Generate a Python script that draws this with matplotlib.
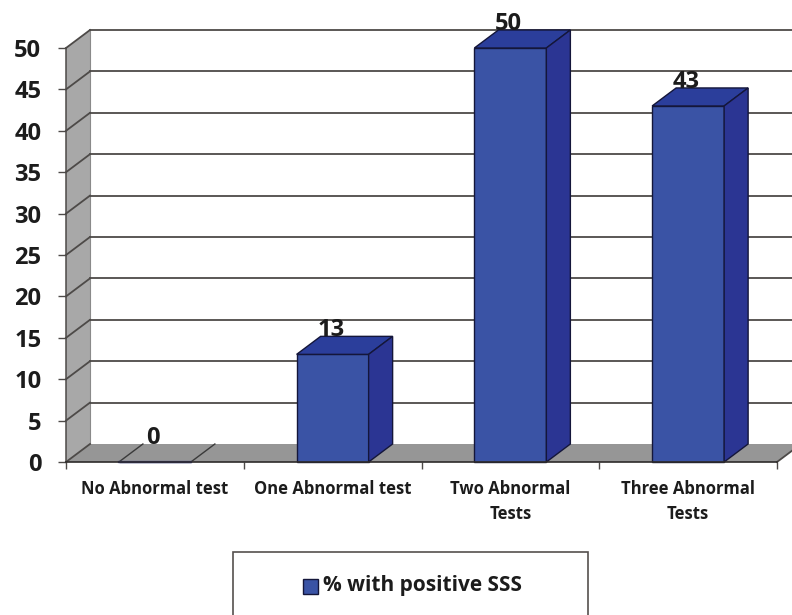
"""Pseudo-3D bar chart: % with positive SSS by number of abnormal tests."""

import matplotlib

matplotlib.use("Agg")
import matplotlib.pyplot as plt
from matplotlib.patches import Polygon, Rectangle


categories = ["No Abnormal test", "One Abnormal test", "Two Abnormal\nTests", "Three Abnormal\nTests"]
values = [0, 13, 50, 43]
y_ticks = [0, 5, 10, 15, 20, 25, 30, 35, 40, 45, 50]
legend_label = "% with positive SSS"

FRONT = "#3A53A5"
TOP = "#2B3E9B"
SIDE = "#2B3593"
WALL = "#A8A8A8"
FLOOR = "#969696"
EDGE = "#14163A"
LINE = "#4D4A48"
INK = "#1C1C1C"

W, H = 792, 615
# depth of the fake 3D box, in data units (24 px across, 18 px up)
DX = 24 / 177.75
DY = 18 / 8.28
BAR_W = 0.405


def draw_box(ax):
    ax.add_patch(Polygon([(0, 0), (DX, DY), (DX, 50 + DY), (0, 50)], facecolor=WALL, edgecolor="none", zorder=1, clip_on=False))
    ax.add_patch(Polygon([(0, 0), (4, 0), (4 + DX, DY), (DX, DY)], facecolor=FLOOR, edgecolor="none", zorder=1, clip_on=False))
    ax.plot([DX, DX], [DY, 50 + DY], color="#8A8A8A", lw=0.8, zorder=2, clip_on=False)
    for v in y_ticks:
        ax.plot([0, DX], [v, v + DY], color=LINE, lw=1.3, zorder=2, clip_on=False)
        if v > 0:
            ax.plot([DX, 4 + DX], [v + DY, v + DY], color=LINE, lw=1.3, zorder=2, clip_on=False)
    ax.plot([4, 4 + DX], [0, DY], color=LINE, lw=1.3, zorder=2, clip_on=False)


def draw_bars(ax):
    for i, value in enumerate(values):
        x0 = i + 0.5 - BAR_W / 2
        x1 = x0 + BAR_W
        ax.bar(i + 0.5, value, width=BAR_W, color=FRONT, edgecolor=EDGE, linewidth=1.0, zorder=3, clip_on=False)
        top_color = TOP if value > 0 else "none"
        ax.add_patch(Polygon([(x0, value), (x1, value), (x1 + DX, value + DY), (x0 + DX, value + DY)],
                             facecolor=top_color, edgecolor=EDGE if value > 0 else "none", lw=1.0, zorder=3, clip_on=False))
        if value > 0:
            ax.add_patch(Polygon([(x1, 0), (x1 + DX, DY), (x1 + DX, value + DY), (x1, value)],
                                 facecolor=SIDE, edgecolor=EDGE, lw=1.0, zorder=3, clip_on=False))
        else:
            ax.plot([x0, x0 + DX], [0, DY], color="#3A3A3A", lw=1.0, zorder=3, clip_on=False)
            ax.plot([x1, x1 + DX], [0, DY], color="#3A3A3A", lw=1.0, zorder=3, clip_on=False)
            ax.plot([x0, x1], [0, 0], color=SIDE, lw=1.6, zorder=4, clip_on=False)
        ax.text(i + 0.49, value + DY, str(value), ha="center", va="baseline", fontsize=17,
                fontweight="bold", color=INK, zorder=5, clip_on=False)


def draw_legend(fig):
    fig.add_artist(Rectangle((232.5 / W, -0.01), 355.5 / W, (H - 551.5) / H + 0.01,
                             transform=fig.transFigure, facecolor="white", edgecolor="#55504E", lw=1.2))
    fig.add_artist(Rectangle((303 / W, 1 - 594 / H), 15 / W, 15 / H, transform=fig.transFigure,
                             facecolor=FRONT, edgecolor=EDGE, lw=1.0))
    fig.text(323 / W, 1 - 586 / H, legend_label, ha="left", va="center", fontsize=15,
             fontweight="bold", color=INK)


def main():
    plt.rcParams["font.family"] = ["Open Sans", "DejaVu Sans"]
    fig = plt.figure(figsize=(W / 100, H / 100), dpi=100)
    ax = fig.add_axes([66 / W, 1 - 462 / H, 711 / W, 414 / H])
    ax.patch.set_visible(False)
    ax.set_xlim(0, 4)
    ax.set_ylim(0, 50)

    draw_box(ax)
    draw_bars(ax)

    ax.set_yticks(y_ticks)
    ax.tick_params(axis="y", length=5.8, width=1.0, color=LINE, pad=12, labelcolor=INK)
    for label in ax.get_yticklabels():
        label.set_fontweight("bold")
        label.set_fontsize(17)
    ax.set_xticks([i + 0.5 for i in range(len(categories))])
    ax.set_xticklabels(categories, fontsize=12, fontweight="bold", color=INK, linespacing=1.47)
    ax.tick_params(axis="x", which="major", length=0, pad=13)
    ax.set_xticks(range(len(categories) + 1), minor=True)
    ax.tick_params(axis="x", which="minor", length=5, width=1.0, color=LINE)
    ax.spines[["top", "right"]].set_visible(False)
    ax.spines["left"].set(color=LINE, linewidth=1.1, zorder=4)
    ax.spines["bottom"].set(color="#2E2B2A", linewidth=1.2, zorder=4)

    draw_legend(fig)
    fig.savefig("out.png", dpi=100, facecolor="white")
    plt.close(fig)


if __name__ == "__main__":
    main()
